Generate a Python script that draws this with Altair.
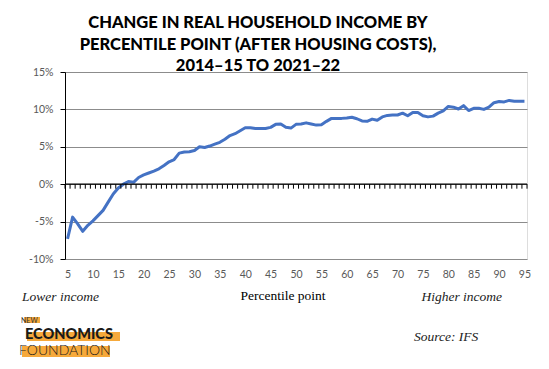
import altair as alt
import pandas as pd
import numpy as np

percentiles = list(range(5, 96))
change = [
    -7.3, -4.4, -5.3, -6.3, -5.5, -4.9, -4.2, -3.5, -2.4, -1.3,
    -0.5, 0.0, 0.35, 0.25, 0.9, 1.25, 1.5, 1.75, 2.05, 2.5,
    3.0, 3.3, 4.15, 4.3, 4.35, 4.5, 5.0, 4.9, 5.1, 5.35,
    5.6, 6.0, 6.5, 6.75, 7.15, 7.55, 7.55, 7.45, 7.45, 7.45,
    7.6, 8.0, 8.05, 7.6, 7.5, 8.0, 8.05, 8.2, 8.05, 7.9,
    7.95, 8.4, 8.8, 8.8, 8.8, 8.85, 8.95, 8.75, 8.45, 8.4,
    8.7, 8.55, 9.0, 9.2, 9.25, 9.25, 9.5, 9.15, 9.6, 9.6,
    9.15, 9.0, 9.1, 9.5, 9.8, 10.4, 10.3, 10.05, 10.5, 9.85,
    10.15, 10.15, 10.0, 10.3, 10.9, 11.05, 11.0, 11.2, 11.1, 11.1,
    11.1,
]
x_tick_labels = list(range(5, 96, 5))
y_ticks = [-10, -5, 0, 5, 10, 15]
title_lines = [
    "CHANGE IN REAL HOUSEHOLD INCOME BY",
    "PERCENTILE POINT (AFTER HOUSING COSTS),",
    "2014\u201315 TO 2021\u201322",
]

W, H = 462, 187
df = pd.DataFrame({"p": percentiles, "v": change})
bounds = pd.DataFrame({"b": np.arange(4.5, 96.0, 1.0)})
one = pd.DataFrame({"a": [0]})

xscale = alt.Scale(domain=[4.5, 95.5], nice=False, zero=False)
yscale = alt.Scale(domain=[-10, 15], nice=False)

AXIS_FONT = "Lato"
AXIS_COLOR = "#595959"

xaxis = alt.Axis(
    values=x_tick_labels, grid=False, domain=False, ticks=False, title=None,
    labelOverlap=False, labelBound=False, labelFlush=False,
    labelPadding=10, labelFont=AXIS_FONT, labelFontSize=10.5, labelColor=AXIS_COLOR)
yaxis = alt.Axis(
    values=y_ticks, grid=True, gridColor="#8c8c8c", gridWidth=1,
    domainColor="black", domainWidth=1, tickColor="black", tickSize=5,
    labelOverlap=False, labelBound=False, labelFlush=False,
    labelExpr="datum.value + '%'", title=None, labelPadding=7,
    labelFont=AXIS_FONT, labelFontSize=10.5, labelColor=AXIS_COLOR)

line = alt.Chart(df).mark_line(color="#4472C4", strokeWidth=3, strokeJoin="round").encode(
    x=alt.X("p:Q", scale=xscale, axis=xaxis),
    y=alt.Y("v:Q", scale=yscale, axis=yaxis),
)

zero = alt.Chart(one).mark_rule(color="black", strokeWidth=1.3).encode(
    y=alt.datum(0, scale=yscale, axis=yaxis)
)
ticks = alt.Chart(bounds).mark_rule(color="black", strokeWidth=1).encode(
    x=alt.X("b:Q", scale=xscale, axis=xaxis),
    y=alt.datum(0, scale=yscale, axis=yaxis),
    y2=alt.datum(-0.6),
)

def txt(text, x, y, **kw):
    return alt.Chart(one).mark_text(text=text, baseline="alphabetic", **kw).encode(
        x=alt.value(x), y=alt.value(y))

def box(x1, x2, y1, y2, color="#F6A93B"):
    return alt.Chart(one).mark_rect(color=color).encode(
        x=alt.value(x1), x2=alt.value(x2), y=alt.value(y1), y2=alt.value(y2))

ox, oy = 65, 72  # page position of plot origin
layers = [line, zero, ticks]
for i, t in enumerate(title_lines):
    layers.append(txt(t, 258 - ox, [28, 49.5, 71][i] - oy, align="center",
                      font="Lato", fontWeight=900, fontSize=16.5, color="black"))
layers += [
    txt("Lower income", 22 - ox, 301 - oy, align="left", font="Liberation Serif",
        fontStyle="italic", fontSize=13.5, color="#222"),
    txt("Percentile point", 283 - ox, 300 - oy, align="center", font="Liberation Serif",
        fontSize=13.5, color="black"),
    txt("Higher income", 502 - ox, 301 - oy, align="right", font="Liberation Serif",
        fontStyle="italic", fontSize=13.5, color="#222"),
    txt("Source: IFS", 414 - ox, 341 - oy, align="left", font="Liberation Serif",
        fontStyle="italic", fontSize=13.5, color="#222"),
    box(24 - ox, 40 - ox, 317 - oy, 323 - oy),
    box(27 - ox, 120 - ox, 332 - oy, 341 - oy),
    box(22 - ox, 110 - ox, 346 - oy, 357 - oy),
    txt("NEW", 21 - ox, 323 - oy, align="left", font="Lato", fontSize=7,
        fontWeight=400, color="#333"),
    txt("ECONOMICS", 25 - ox, 339 - oy, align="left", font="Lato", fontSize=14.5,
        fontWeight=900, color="#1a1a1a"),
    txt("FOUNDATION", 19 - ox, 355 - oy, align="left", font="Lato", fontSize=14,
        fontWeight=300, color="#1a1a1a"),
]

chart = alt.layer(*layers).properties(
    width=W, height=H,
    autosize=alt.AutoSizeParams(type="none"),
    padding={"left": 57, "top": 64, "right": 14, "bottom": 102},
).configure_view(stroke=None).configure_axis(labelOverlap=False).configure(background="white")

chart.save("out.html", embed_options={"renderer": "svg", "actions": False})
